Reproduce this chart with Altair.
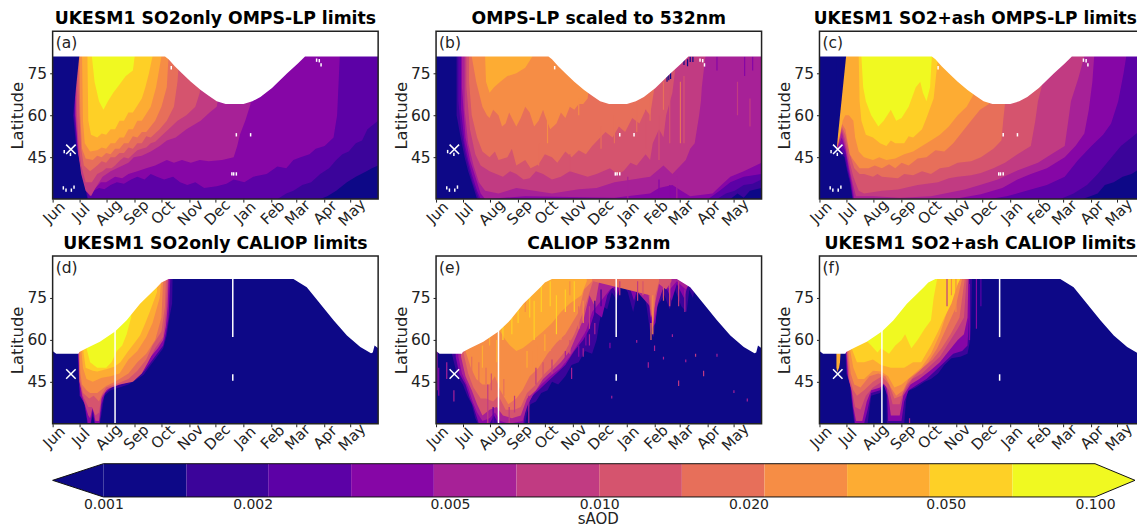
import altair as alt
import pandas as pd

COLORS = ["#0d0887","#3b049a","#5c01a6","#8606a6","#a72197","#c13b82","#d5546e","#e76f5a","#f68d45","#fdac33","#fed026","#f0f921"]
MONTH_DAYS = [0,30,61,92,122,153,183,214,245,273,304,334]
MONTHS = ["Jun","Jul","Aug","Sep","Oct","Nov","Dec","Jan","Feb","Mar","Apr","May"]
CBAR_EDGES = [0.001,0.00147,0.00215,0.00316,0.00464,0.00681,0.01,0.01468,0.02154,0.03162,0.04642,0.06813,0.1]
CBAR_TIPS = [0.00079,0.1204]
CBAR_TICKS = [0.001,0.002,0.005,0.01,0.02,0.05,0.1]
ERUPTION = (20.5,47.8)

MASK_OMPS = [(0,81),(126,81),(130,80),(137,77.5),(145,75),(155,72),(166,69),(175,67),(184,65),(194,64),(214,64),(224,65),(233,66.5),(246,69.7),(263,75),(275,78.5),(283,81),(365,81)]
MASK_CAL = [(0,56),(4,55),(29,55),(30,55.7),(38,57),(53,59.3),(70,63),(83,67),(98,72.9),(117,78.8),(122,80.5),(130,81.8),(270,81.8),(285,78.8),(300,72.9),(315,67),(330,61.6),(345,57.5),(357,55.2),(359,55.5),(361,58),(365,57)]
HOLES_OMPS = [(12,34),(15,33.2),(21,33.2),(24,34.3),(13,47),(20,46),(133,77),(206,53),(222,53),(201,39),(203,39),(206,39),(296,79.7),(299,79.5),(301,78)]
LINES_CAL = [(70,30,63.5),(202,61,82),(202,45.4,47.7)]

PANEL_A = [
(0,[(0,30),(365,30)]),
(1,[(23,60),(26,50),(29,45),(33,40),(39,30),(300,30),(308,31),(318,33),(330,36),(340,38),(352,40),(358,41),(365,42)]),
(2,[(24,60),(27,49),(30,44),(34,38),(40,30),(252,30),(262,32),(270,33),(280,35),(290,36),(300,39),(310,41),(318,44),(325,46),(332,47),(340,50),(347,51),(353,55),(365,58)]),
(3,[(25,60),(28,48),(31,43),(35,37),(41,31),(46,33),(52,34),(58,33.5),(65,35),(72,36),(80,35.5),(88,37),(95,38),(103,37),(110,39),(117,38),(125,37),(135,38),(143,36),(151,35),(160,36),(170,34),(184,34.6),(195,35.5),(203,37),(215,36),(225,38),(240,39),(252,41.7),(262,41),(270,44),(278,45),(288,46),(295,48),(305,49),(315,52),(319,60),(322,81)]),
(4,[(25.5,60),(28.5,47),(32,41),(36,35),(42,32),(48,34),(54,36),(60,36),(70,38),(78,37.5),(85,39),(95,40),(105,41),(115,42),(128,44),(136,43),(145,44),(155,43),(165,44),(175,43.5),(190,44),(203,45),(207,49),(210,53),(216,58),(222,64),(225,81)]),
(5,[(26,60),(29,46),(32,39),(37,33),(43,31),(48,34),(56,38),(65,40),(75,41.5),(85,43),(91,45),(100,45.5),(110,47),(120,49),(128,51),(138,52),(150,55),(166,58),(176,61),(184,63),(188,70),(190,81)]),
(6,[(27,62),(29,50),(32,42),(37,36),(44,36),(50,39),(56,40),(60,41),(66,41),(70,42),(76,44),(80,45),(85,44.5),(90,46),(95,47.5),(100,48),(105,48.5),(110,50),(115,50.5),(120,52),(130,55),(140,58),(150,60),(160,63),(165,68),(168,81)]),
(7,[(29,70),(30,60),(32,48),(35,42),(42,40),(50,42),(55,43.5),(60,43),(65,45),(70,45),(75,46.5),(80,46.5),(85,48.5),(90,48),(95,50),(100,50),(105,52.5),(110,52),(120,55),(128,58),(136,63),(140,72),(142,81)]),
(8,[(30,81),(31,60),(33,48),(37,44.5),(45,44),(50,45.5),(55,45),(60,46.5),(65,46),(70,48),(75,48),(80,50),(85,50),(90,52.5),(95,52),(100,54),(105,54),(115,58),(122,63),(128,70),(130,81)]),
(9,[(33,81),(34,58),(36,50),(42,47),(50,47.5),(55,48.5),(60,48),(65,50),(70,50),(75,52),(80,52),(85,55),(90,55),(95,58),(100,58),(110,63),(116,70),(122,81)]),
(10,[(39,81),(40,58),(43,53),(50,52),(55,53.5),(60,53),(65,55),(70,55),(75,58),(80,58),(85,61),(90,61),(100,66),(104,70),(108,75),(112,81)]),
(11,[(44,81),(47,72),(52,65),(57,62),(62,65),(68,68),(75,71),(82,74),(90,76),(92,81)]),
(0,[(23,60),(30,81.5)]),
]
PANEL_B = [
(0,[(0,30),(365,30)]),
(1,[(23,60),(27,53),(32,45),(36,40),(40,36),(46,30),(330,30),(338,32),(345,30.5),(352,33),(365,34)]),
(2,[(25,65),(28,55),(33,46),(37,41),(41,36),(48,30),(315,30),(325,32),(335,33),(345,35),(355,35.5),(365,37)]),
(3,[(28,62),(32,50),(36,44),(41,38),(46,33),(50,30),(305,30),(318,33),(330,36),(345,38),(365,39)]),
(4,[(29,70),(33,52),(38,44),(44,38),(50,32),(55,30),(100,31),(200,30.5),(240,32),(250,34),(265,35),(275,33),(285,31),(310,32),(320,35),(330,38),(345,40),(365,43)]),
(5,[(32,62),(36,50),(42,42),(48,36),(55,33),(70,32),(90,34),(110,33),(130,32),(160,33.5),(180,34),(200,36),(220,37),(240,38),(255,42),(265,39),(280,44),(285,48),(290,50),(293,56),(295,60),(297,65),(298,70),(302,81)]),
(6,[(34,70),(38,55),(44,46),(50,42),(60,40),(75,38),(83,40),(90,39),(98,37),(105,37.5),(112,40),(120,39),(130,37),(140,38),(150,40),(160,39),(170,38),(180,39),(195,41),(203,39),(210,40),(218,43),(225,42),(235,46),(240,44),(243,50),(250,55),(255,52),(258,60),(265,68),(270,81)]),
(7,[(37,72),(40,60),(46,52),(52,47),(60,45),(66,47),(70,44),(80,45),(85,48),(90,42),(100,44),(106,41),(115,42.5),(122,46),(130,45),(136,43),(145,47),(152,45),(160,47.5),(168,46),(175,49),(190,54),(198,52),(205,56),(212,54),(220,59),(228,57),(235,62),(240,60),(245,70),(250,81)]),
(8,[(40,81),(45,72),(52,63),(57,60),(60,59),(64,62),(70,60),(74,56),(78,57),(82,61),(85,59),(90,56),(95,59),(100,63),(105,61),(110,56),(115,58),(120,62),(122,60),(128,55),(135,57),(140,61),(145,59),(150,63),(155,62),(160,64),(165,64),(170,66),(175,81)]),
(9,[(55,81),(56,72),(60,68),(65,70),(72,72),(80,74),(90,75),(100,77),(108,81)]),
]
STREAKS_B = [(7,274,50,72),(7,255,62,72),(7,240,58,68),(7,225,54,64),(6,262,50,70),(6,250,44,60),(6,278,50,74),(6,235,48,62),(5,338,60,72),(5,352,56,66),(3,346,74,81),(3,355,76,81),(3,315,76,81),(0,259,72,75),(0,261,72.5,76),(0,263,73,75.5),(0,278,78,80.5),(0,282,77.5,80),(0,285,79,81),(0,288,79,81),(7,115,42,50),(6,150,40,46),(8,160,60,66),(8,125,50,60),(7,185,48,56),(7,200,50,60),(4,215,30,38),(3,250,30,37),(3,262,30,35),(4,270,30,38)]

PANEL_C = [
(0,[(0,30),(365,30)]),
(1,[(20,48),(22,47),(28,45),(31,40),(34,36),(37,30),(295,30),(312,32),(320,35),(330,36),(340,38),(350,39),(365,42)]),
(2,[(20,48),(24,48),(28,46),(31,41),(35,36),(37.5,30),(245,30),(270,30),(285,32),(300,35),(312,39),(325,44),(338,49),(350,52),(365,56)]),
(3,[(20,48),(25,50),(29,47),(32,41),(35,36),(38,30),(190,30),(210,31),(237,33.4),(255,35),(275,38),(290,44),(305,49),(318,53),(327,57),(335,65),(341,75),(344,81)]),
(4,[(20,48),(25,52),(29,48),(33,41),(36,36),(39,30),(150,30),(181,31.7),(205,34),(222,37),(237,39),(255,41),(275,45),(287,49),(297,53.5),(302,62),(306,72),(308,81)]),
(5,[(20,48.2),(25,54),(29,49),(33,42),(37,36),(41,31),(60,31),(90,30.5),(125,31),(163,33.4),(180,35),(200,37),(220,40),(245,43),(260,46),(275,49),(279,58),(282,65),(290,73),(297,81)]),
(6,[(20,48.3),(25,55),(29,51),(34,43),(38,38),(44,33),(50,32),(70,33),(88,33.4),(110,35),(133,36),(145,37.5),(155,38),(170,38.5),(181,39.3),(195,41),(208,43),(222,46),(237,49),(242,58),(245,65),(249,70),(252,81)]),
(7,[(20,48.5),(25,56),(29,53),(34,46),(39,41),(45,39),(50,39),(60,38),(65,39),(70,38),(88,37.5),(95,39),(105,38.5),(115,40),(125,39),(135,41),(145,41.5),(155,43),(170,43.5),(181,45),(195,48),(204,51),(206,58),(208,64),(210,81)]),
(8,[(20,48.7),(25,57),(29,55),(34,46),(38,44),(45,41),(55,41),(62,42),(70,41),(78,42.5),(85,41),(92,43),(100,42),(110,44.5),(120,45),(130,47.5),(140,47),(150,50),(160,54),(170,58),(180,62),(190,64),(192,81)]),
(9,[(21,50),(26,58),(29,60),(33,60),(38,58),(40,52),(44,47),(50,45),(60,44),(67,45),(75,44),(85,44.5),(95,46),(105,47),(115,49),(125,51),(135,53),(145,56),(155,60),(165,63),(172,67),(178,81)]),
(10,[(44,81),(45,65),(47,58),(52,53),(60,52),(68,50),(75,49),(80,51),(85,50),(95,50),(100,52.5),(105,52),(115,55),(120,59),(128,66),(130,72),(133,81)]),
(11,[(47,81),(49,70),(52,65),(58,60),(66,56),(72,58),(80,62),(86,58),(92,59),(100,63),(108,70),(113,72),(116,68),(120,65),(124,70),(126,81)]),
(0,[(19.5,49),(30,81.5)]),
]
PANEL_D = [
(0,[(0,30),(365,30)]),
(1,[(28,57),(29,48),(30,40),(35,38),(39,30),(43,30),(45,33),(47,30),(53,30),(55,34),(58,40),(65,42),(75,43),(85,44),(95,46),(102,47.5),(110,51),(117,54),(124,57),(128,61.6),(131,68),(134,73),(134.5,82)]),
(3,[(28.5,57),(29.5,47),(31,40),(36,37),(39.5,30),(42.5,30),(45,35),(47.5,30),(52.5,30),(55,37),(59,41),(66,43),(76,44),(86,45),(96,47),(103,49),(110,52),(117,55),(124,58),(127,62),(130,68),(132,81.8)]),
(5,[(29,57),(30,46),(33,40),(40,33),(42,32),(45,36),(48,31),(52,31),(55,39),(60,42),(70,44),(85,45.5),(95,47),(102,50),(110,54),(118,57),(124,60),(127,65),(129,72),(130,81.8)]),
(6,[(29.2,57),(30,45),(34,40),(40,36),(44,36),(48,33),(52,34),(55,40),(62,42.5),(75,44),(90,45),(100,48),(107,52),(115,57),(124,61),(127,70),(129,81.8)]),
(7,[(29.5,57),(30.5,46),(34,41),(41,39),(46,40),(52,38),(56,41),(60,43),(70,44),(85,46),(95,49),(105,53),(112,58),(122,63),(126,72),(127,81.8)]),
(8,[(30,57),(31,48),(33,44),(38,42),(42,41),(50,41),(60,43.5),(70,45),(85,48),(95,52),(105,55),(115,60),(122,68),(124,81.8)]),
(9,[(32,57),(34,50),(38,46),(45,45),(55,46.5),(65,47),(75,48),(85,53),(95,56),(105,61),(112,66),(120,75),(122,81.8)]),
(10,[(34,57),(37,50),(45,49),(50,48.7),(60,49.5),(69,50.4),(76,52),(84,55.7),(92,59),(98,61.6),(104,66),(110,71),(117,77)]),
(11,[(38,57),(42,52),(50,50),(60,50),(66,52),(72,56),(78,58),(83,62),(88,68)]),
]
PANEL_E = [
(0,[(0,30),(365,30)]),
(1,[(17,56),(20,52),(24,47),(30,44),(35,40),(40,37),(44,32),(47,30),(100,30),(102,34),(106,37),(112,38),(118,41),(125,42),(130,45),(137,44),(145,47),(152,51),(160,52),(167,56),(175,55),(180,60),(183,66),(187,72),(192,71),(197,77),(203,74),(208,81),(215,77),(221,70),(225,76),(231,80),(236,72),(240,63),(244,61),(248,72),(256,76),(262,71),(268,78),(275,72),(281,70),(284,78),(288,75),(292,81)]),
(3,[(22,54),(26,48),(33,44),(38,39),(42,36),(48,30),(60,30),(65,33),(70,30),(98,30),(100,35),(108,40),(115,42),(125,45),(135,48),(145,51),(155,56),(165,60),(172,64),(178,70),(186,68),(192,76),(198,79),(203,76),(208,81),(216,80),(222,74),(228,81),(238,74),(242,64),(246,66),(250,77),(258,79),(264,74),(270,80),(278,75),(283,80),(288,81)]),
(4,[(25,54),(29,48),(36,43),(41,38),(46,34),(52,31),(60,32),(66,34),(72,31),(82,30),(97,31),(103,37),(110,41),(118,44),(128,47),(140,50),(150,54),(160,59),(168,63),(175,70),(185,74),(195,78),(205,80),(215,81),(240,72),(244,66),(248,72),(256,80),(262,78),(270,81),(280,78),(286,81)]),
(6,[(28,54),(33,47),(40,42),(46,37),(52,33),(60,35),(68,36),(75,33),(85,32),(95,33),(102,39),(112,42),(120,46),(130,49),(140,52),(150,56),(158,62),(166,68),(172,76),(178,72),(183,81),(238,77),(241,68),(245,72),(250,80),(258,78),(264,81)]),
(7,[(31,55),(36,48),(42,43),(50,39),(56,39),(64,38),(70,40),(78,35),(88,35),(95,36),(102,41),(112,44),(122,48),(132,51),(145,56),(155,62),(165,70),(170,75),(176,81),(240,76),(243,64),(246,76),(250,81)]),
(8,[(33,56),(39,50),(45,46),(52,44),(60,44),(66,47),(72,42),(81,37),(90,39),(97,42),(105,47),(115,50),(125,55),(135,59),(145,62),(160,70),(166,78),(175,81)]),
(9,[(44,62),(48,66),(60,64),(66,66),(72,63),(78,60),(83,58),(90,56),(97,57),(105,59),(120,63),(130,66),(140,70),(150,73),(163,76),(169,81)]),
]
STREAKS_E = [(4,1,42,56),(3,3,40,50),(4,12,46,52),(4,20,38,42),(10,75,60,68),(10,85,62,74),(10,92,66,76),(10,105,68,80),(10,110,60,74),(10,118,70,81),(10,128,72,81),(10,135,62,76),(10,145,70,78),(10,155,70,81),(8,165,66,74),(8,100,70,80),(8,150,76,81),(9,60,58,62),(4,104,30,40),(5,58,30,44),(2,64,30,36),(7,241,60,66),(8,243,62,76),(6,255,74,81),(6,262,72,81),(5,272,72,81),(4,279,70,78),(5,226,74,81),(6,232,76,81),(5,206,76,81),(4,152,46,50),(4,165,54,57),(4,172,58,62),(4,178,62,66),(3,195,57,59),(4,245,56,58),(4,265,61,62),(5,291,54,55),(5,300,47,49),(5,272,43.5,45.5),(4,315,54,55),(4,334,41,42),(4,238,50,52),(4,255,53,54),(4,225,59,60),(4,280,52,53),(4,349,38,39),(4,197,39,40),
(7,40,46,54),(7,48,44,52),(9,52,50,58),(7,56,44,50),(6,62,42,48),(9,68,52,60),(7,76,40,46),(5,82,30,36),(5,88,34,40),(8,95,44,52),(9,102,50,56),(8,108,50,56),(8,113,52,58),(9,122,56,62),(8,128,56,60),(8,140,60,66),(5,112,44,50),(6,120,47,52),(5,130,48,53),(4,145,52,56),(6,150,55,60),(7,160,64,72),(5,172,64,72),(1,178,68,74),(1,185,72,78),(3,168,58,63),(3,160,54,58)]
PANEL_F = [
(0,[(0,30),(365,30)]),
(1,[(29,57),(30,48),(34,44),(36,38),(39,30),(54,30),(56,35),(58,40),(68,41),(71,44),(75,42),(75.5,30),(95,30),(97,38),(99,41.6),(108,43),(118,45),(125,46),(133,48),(140,51),(148,53.4),(158,54),(166,55),(169,60),(170,65),(171,82)]),
(3,[(29.5,57),(31,48),(35,43),(37,37),(40,30),(50,30),(54,35),(58,41),(68,42),(72,44),(76,40),(77,31),(92,31),(95,38),(100,42),(110,44),(120,46),(130,49),(140,52),(150,55),(160,56),(166,58),(168,70),(168,82)]),
(5,[(30,57),(32,47),(36,42),(38,36),(41,31),(48,31),(53,38),(58,42),(68,43),(74,45),(78,38),(80,33),(90,33),(94,40),(102,44),(112,46),(124,49),(135,52),(145,56),(155,60),(162,62),(166,68),(167,82)]),
(6,[(30.5,57),(33,46),(37,41),(40,36),(46,35),(52,40),(60,43),(70,45),(78,42),(82,37),(90,37),(94,41),(104,46),(115,48),(125,51),(135,54),(145,59),(155,64),(162,68),(165,82)]),
(7,[(31,57),(34,46),(38,42),(42,40),(50,42),(60,45),(70,47),(78,44),(84,39),(92,40),(98,44),(106,47),(116,50),(127,53),(137,57),(147,62),(157,68),(163,82)]),
(8,[(32,57),(35,48),(39,44),(46,43),(56,47),(66,48),(74,47),(80,43),(86,40),(94,42),(100,46),(112,49),(122,52),(132,57),(142,64),(152,71),(160,82)]),
(9,[(34,57),(38,50),(43,46),(50,46),(60,49),(69,48.7),(77,47),(84,43),(92,44),(103,47),(114,50),(125,55),(135,62),(145,72),(152,78),(158,82)]),
(10,[(36,57),(42,52),(50,52),(60,53),(69,51),(80,50),(95,50),(105,52),(114,52),(125,58),(133,63),(140,68),(148,73),(155,80),(158,82)]),
(11,[(52,60),(58,58),(65,55.5),(69,57),(78,55),(85,58),(92,60),(96,62),(103,57),(110,60),(118,64),(125,67),(128,75),(132,82)]),
(9,[(19,50),(20,48.5),(22,50),(23,52),(24,57)]),
]
STREAKS_F = [(3,176,64,82),(2,181,72,82),(3,168,60,80),(4,101,30,32),(5,143,72,82),(8,148,76,82),(8,153,70,82)]
PANEL_SPECS = [
("UKESM1 SO2only OMPS-LP limits","(a)",PANEL_A,MASK_OMPS,[],0,17.3),
("OMPS-LP scaled to 532nm","(b)",PANEL_B,MASK_OMPS,STREAKS_B,0,17.3),
("UKESM1 SO2+ash OMPS-LP limits","(c)",PANEL_C,MASK_OMPS,[],-7,17),
("UKESM1 SO2only CALIOP limits","(d)",PANEL_D,MASK_CAL,[],0,17.3),
("CALIOP 532nm","(e)",PANEL_E,MASK_CAL,STREAKS_E,0,17.3),
("UKESM1 SO2+ash CALIOP limits","(f)",PANEL_F,MASK_CAL,STREAKS_F,-2,17.3),
]

W,H = 326,168
FONT = "DejaVu Sans"
INK = "#222222"
xs = alt.Scale(domain=[0,365],nice=False,zero=False)
ys = alt.Scale(domain=[30,90],nice=False,zero=False)
label_expr = "%s[indexof(%s,datum.value)]" % (MONTHS,MONTH_DAYS)
xaxis = alt.Axis(values=MONTH_DAYS,labelExpr=label_expr,labelAngle=-45,labelAlign="center",labelBaseline="top",labelPadding=5,labelOffset=-4,
                 labelFontSize=15,labelColor=INK,tickColor=INK,tickSize=3,grid=False,domain=False,title=None,labelOverlap=False,labelFont=FONT)
yaxis = alt.Axis(values=[45,60,75],labelFontSize=15.5,labelColor=INK,tickColor=INK,tickSize=3,grid=False,domain=False,title="Latitude",
                 titleFontSize=16.5,titleFontWeight="normal",titleColor=INK,titleFont=FONT,labelFont=FONT,titlePadding=1,labelPadding=3)
def X(f): return alt.X(f,scale=xs,axis=xaxis)
def Y(f,**k): return alt.Y(f,scale=ys,axis=yaxis,**k)

def area(points,color):
    df = pd.DataFrame(points,columns=["day","lat"]); df["top"] = 90
    return alt.Chart(df).mark_area(color=color,clip=True,stroke=None,interpolate="linear").encode(
        x=X("day:Q"),y=Y("lat:Q",stack=None),y2="top:Q")

def panel(title,tag,spec,mask,streaks,title_dx,title_size):
    layers = []
    for level,pts in spec:
        layers.append(area(pts,COLORS[level]))
    for level,d,a,b in streaks:
        df = pd.DataFrame({"day":[d],"a":[a],"b":[b]})
        layers.append(alt.Chart(df).mark_rule(color=COLORS[level],strokeWidth=1.2,clip=True).encode(
            x=X("day:Q"),y=Y("a:Q"),y2="b:Q"))
    layers.append(area(mask,"#ffffff"))
    if mask is MASK_OMPS:
        df = pd.DataFrame(HOLES_OMPS,columns=["day","lat"])
        df["a"]=df.lat-0.6; df["b"]=df.lat+0.6
    else:
        df = pd.DataFrame(LINES_CAL,columns=["day","a","b"])
    layers.append(alt.Chart(df).mark_rule(color="#ffffff",strokeWidth=1.5).encode(
        x=X("day:Q"),y=Y("a:Q"),y2="b:Q"))
    mk = pd.DataFrame({"day":[ERUPTION[0]],"lat":[ERUPTION[1]]})
    layers.append(alt.Chart(mk).mark_point(shape="M-1,-1L1,1M-1,1L1,-1",size=90,stroke="#ffffff",strokeWidth=1.5,filled=False,opacity=1).encode(
        x=X("day:Q"),y=Y("lat:Q")))
    one = pd.DataFrame({"t":[tag]})
    layers.append(alt.Chart(one).mark_text(align="left",baseline="middle",fontSize=15.5,font=FONT,color=INK).encode(
        x=alt.value(3),y=alt.value(12),text="t:N"))
    layers.append(alt.Chart(one).mark_rect(fillOpacity=0,stroke=INK,strokeWidth=1.5).encode(
        x=alt.value(0),x2=alt.value(W),y=alt.value(0),y2=alt.value(H)))
    return alt.layer(*layers).properties(width=W,height=H,title=alt.TitleParams(title,font=FONT,fontSize=title_size,fontWeight="bold",color="#000000",offset=3,anchor="middle",dx=title_dx))

panels = [panel(*s) for s in PANEL_SPECS]

CB_H = 16.3
CB_UP = -17
CB_W = 1084
cb_scale = alt.Scale(type="log",domain=CBAR_TIPS,nice=False,range=[0,CB_W])
cb_axis = alt.Axis(values=CBAR_TICKS,format=".3f",tickSize=0,domain=False,grid=False,labelFontSize=14,labelFont=FONT,labelColor=INK,labelPadding=1,
            title="sAOD",titleFontSize=15,titleFontWeight="normal",titleFont=FONT,titleColor=INK,titlePadding=0,labelOverlap=False,titleX=546)
seg = pd.DataFrame({"a":CBAR_EDGES[:-1],"b":CBAR_EDGES[1:],"c":COLORS})
cb_rects = alt.Chart(seg).mark_rect().encode(
    x=alt.X("a:Q",scale=cb_scale,axis=cb_axis),
    x2="b:Q",color=alt.Color("c:N",scale=None),y=alt.value(CB_UP),y2=alt.value(CB_H))
yn = alt.Scale(domain=[0,1],nice=False,range=[CB_H,CB_UP])
def tri(xa,xb,color):
    df = pd.DataFrame({"x":[xa,xb],"y":[0.5,0.0],"y2":[0.5,1.0]})
    return alt.Chart(df).mark_area(color=color).encode(x=alt.X("x:Q",scale=cb_scale,axis=cb_axis),y=alt.Y("y:Q",scale=yn,axis=None,stack=None),y2="y2:Q")
outline = pd.DataFrame({"x":[CBAR_TIPS[0],CBAR_EDGES[0],CBAR_EDGES[-1],CBAR_TIPS[1]],"y":[0.5,0,0,0.5],"y2":[0.5,1,1,0.5]})
cb_line = alt.Chart(outline).mark_area(fillOpacity=0,stroke="#111111",strokeWidth=1).encode(
    x=alt.X("x:Q",scale=cb_scale,axis=cb_axis),y=alt.Y("y:Q",scale=yn,axis=None,stack=None),y2="y2:Q")
cbar = alt.layer(cb_rects,tri(CBAR_TIPS[0],CBAR_EDGES[0],COLORS[0]),tri(CBAR_TIPS[1],CBAR_EDGES[-1],COLORS[-1]),cb_line).properties(width=W,height=CB_H)

chart = alt.concat(*panels,cbar,columns=3,spacing={"row":57,"column":58},bounds="flush").properties(
    padding={"left":1.7,"top":1,"right":-9,"bottom":0}).configure_view(stroke=None)
chart.save("out.html", embed_options={"renderer": "svg", "actions": False})
